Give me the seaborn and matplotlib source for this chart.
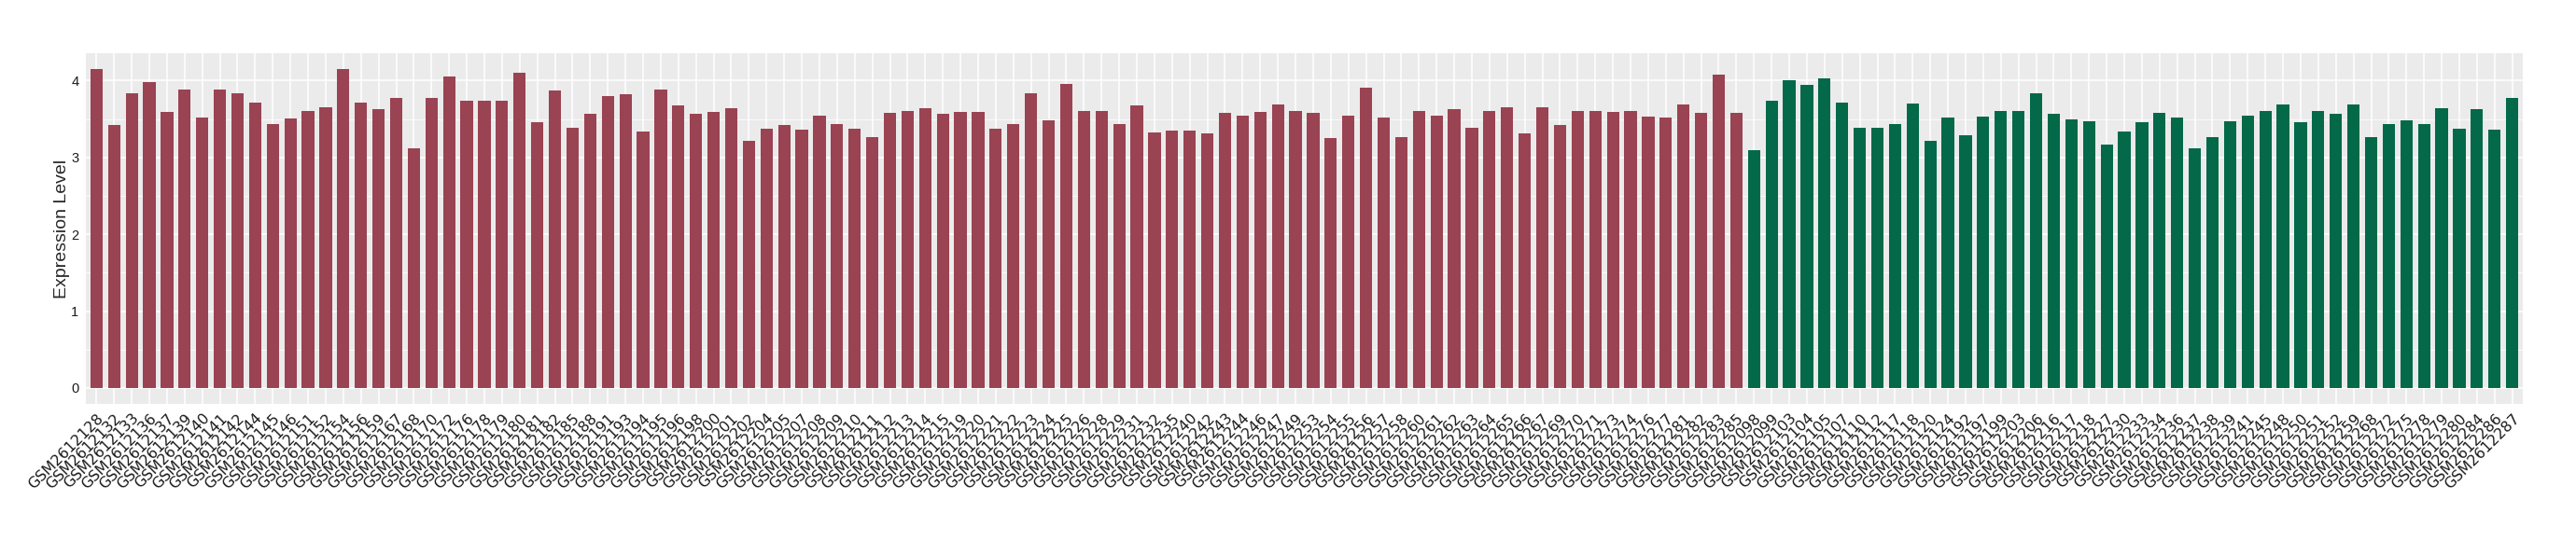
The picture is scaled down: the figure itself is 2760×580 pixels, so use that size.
# -*- coding: utf-8 -*-

import numpy as np
import pandas as pd
import matplotlib
matplotlib.use('Agg')
import matplotlib.pyplot as plt
from matplotlib.ticker import MultipleLocator
import seaborn as sns

# Sample ids (suffixes of GSM2612xxx) and expression values per group
prefix = 'GSM2612'

red_ids = [
    '128', '132', '133', '136', '137', '139', '140', '141', '142', '144',
    '145', '146', '151', '152', '154', '156', '159', '167', '168', '170',
    '172', '176', '178', '179', '180', '181', '182', '185', '188', '191',
    '193', '194', '195', '196', '198', '200', '201', '202', '204', '205',
    '207', '208', '209', '210', '211', '212', '213', '214', '215', '219',
    '220', '221', '222', '223', '224', '225', '226', '228', '229', '231',
    '232', '235', '240', '242', '243', '244', '246', '247', '249', '253',
    '254', '255', '256', '257', '258', '260', '261', '262', '263', '264',
    '265', '266', '267', '269', '270', '271', '273', '274', '276', '277',
    '281', '282', '283', '285']
red_values = [
    4.15, 3.42, 3.84, 3.98, 3.59, 3.89, 3.52, 3.88, 3.84, 3.71,
    3.44, 3.51, 3.60, 3.65, 4.15, 3.71, 3.63, 3.78, 3.12, 3.77,
    4.05, 3.74, 3.74, 3.74, 4.10, 3.46, 3.87, 3.39, 3.57, 3.80,
    3.82, 3.34, 3.88, 3.68, 3.57, 3.59, 3.64, 3.22, 3.37, 3.42,
    3.36, 3.54, 3.43, 3.37, 3.26, 3.58, 3.60, 3.64, 3.57, 3.59,
    3.59, 3.37, 3.43, 3.84, 3.48, 3.96, 3.61, 3.61, 3.43, 3.68,
    3.32, 3.35, 3.35, 3.31, 3.58, 3.54, 3.59, 3.69, 3.61, 3.58,
    3.25, 3.55, 3.91, 3.52, 3.27, 3.60, 3.55, 3.63, 3.39, 3.60,
    3.65, 3.31, 3.65, 3.42, 3.61, 3.61, 3.59, 3.60, 3.53, 3.52,
    3.69, 3.58, 4.08, 3.58]

green_ids = [
    '098', '099', '103', '104', '105', '107', '110', '112', '117', '118',
    '120', '124', '192', '197', '199', '203', '206', '216', '217', '218',
    '227', '230', '233', '234', '236', '237', '238', '239', '241', '245',
    '248', '250', '251', '252', '259', '268', '272', '275', '278', '279',
    '280', '284', '286', '287']
green_values = [
    3.10, 3.74, 4.01, 3.94, 4.03, 3.71, 3.39, 3.39, 3.44, 3.70,
    3.22, 3.52, 3.29, 3.53, 3.61, 3.61, 3.83, 3.57, 3.49, 3.47,
    3.17, 3.34, 3.46, 3.58, 3.52, 3.12, 3.27, 3.47, 3.55, 3.60,
    3.69, 3.46, 3.61, 3.57, 3.69, 3.26, 3.44, 3.48, 3.43, 3.64,
    3.37, 3.63, 3.36, 3.78]

group_colors = {'red': '#9A4352', 'green': '#036948'}


def build_frame():
    # Combine both groups into one long data frame, keeping plot order
    df = pd.DataFrame({
        'sample': [prefix + i for i in red_ids + green_ids],
        'value': red_values + green_values,
        'group': ['red'] * len(red_ids) + ['green'] * len(green_ids)
    })
    return df


def plot_expression(df):
    sns.set_style('darkgrid', {
        'axes.facecolor': '#EBEBEB',
        'grid.color': 'white',
        'axes.edgecolor': 'none',
    })
    plt.rcParams['font.family'] = ['Liberation Sans', 'DejaVu Sans']

    fig = plt.figure(figsize=(27.6, 5.8), dpi=100)
    ax = fig.add_axes([92 / 2760, 147 / 580, 2611 / 2760, 376 / 580])

    sns.barplot(
        data=df, x='sample', y='value', hue='group',
        order=list(df['sample']), palette=group_colors,
        width=0.7, dodge=False, legend=False, saturation=1,
        edgecolor='none', linewidth=0, ax=ax)

    # ggplot-like limits and grid
    n = len(df)
    ax.set_xlim(-0.6, n - 1 + 0.6)
    ymax = df['value'].max()
    ax.set_ylim(-0.05 * ymax, ymax * 1.05)
    ax.yaxis.set_major_locator(MultipleLocator(1))
    ax.yaxis.set_minor_locator(MultipleLocator(0.5))
    ax.grid(which='major', color='white', linewidth=1.1)
    ax.grid(which='minor', axis='y', color='white', linewidth=0.55)
    ax.set_axisbelow(True)
    for s in ax.spines.values():
        s.set_visible(False)

    # Ticks and labels
    ax.tick_params(axis='both', which='major', length=3.3, width=0.8,
                   color='#333333', pad=2.2)
    ax.tick_params(axis='y', which='minor', length=0)
    ax.tick_params(axis='y', labelsize=10.5, labelcolor='#1A1A1A')
    ax.set_xticks(range(n))
    ax.set_xticklabels(df['sample'], rotation=45, ha='right', va='top',
                       rotation_mode='anchor', fontsize=11.4,
                       family='DejaVu Sans', color='#1A1A1A')
    ax.set_xlabel('')
    ax.set_ylabel('Expression Level', fontsize=14, labelpad=1)

    fig.savefig('out.png', dpi=100)
    plt.close(fig)


def main():
    df = build_frame()
    plot_expression(df)


if __name__ == '__main__':
    main()
